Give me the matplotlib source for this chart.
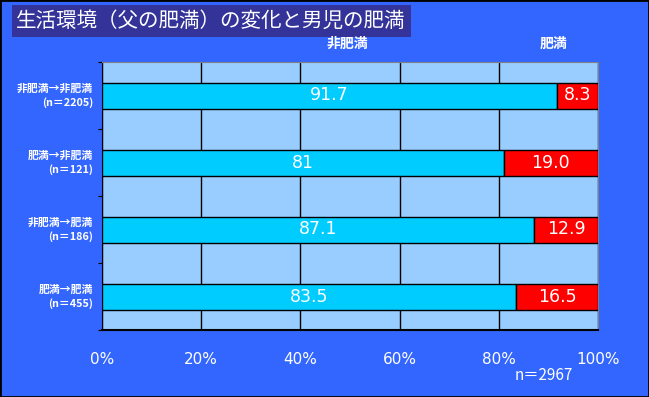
import matplotlib
matplotlib.use('Agg')
import matplotlib.pyplot as plt
from matplotlib.patches import Rectangle

plt.rcParams['font.family'] = ['Noto Sans CJK JP', 'DejaVu Sans']

# データ
categories = ['非肥満→非肥満', '肥満→非肥満', '非肥満→肥満', '肥満→肥満']
n_labels = ['(n＝2205)', '(n＝121)', '(n＝186)', '(n＝455)']
non_obese = [91.7, 81, 87.1, 83.5]
obese = [8.3, 19.0, 12.9, 16.5]
non_obese_text = ['91.7', '81', '87.1', '83.5']
obese_text = ['8.3', '19.0', '12.9', '16.5']
x_ticks = [0, 20, 40, 60, 80, 100]

W, H = 649, 397
fig = plt.figure(figsize=(W / 100, H / 100), dpi=100)
fig.patch.set_facecolor('#3366FF')

# 枠線
fig.patches.append(Rectangle((0, 0), 1, 1, transform=fig.transFigure, fill=False,
                             edgecolor='black', linewidth=2))

# タイトルの箱
fig.patches.append(Rectangle((12 / W, 1 - 37 / H), (411 - 12) / W, 32 / H,
                             transform=fig.transFigure, facecolor='#333399', edgecolor='none'))
fig.text(16 / W, 1 - 21 / H, '生活環境（父の肥満）の変化と男児の肥満', color='white',
         fontsize=14.8, ha='left', va='center')

ax = fig.add_axes([102 / W, 1 - 330 / H, (598 - 102) / W, (330 - 62) / H])
ax.set_facecolor('#99CCFF')

y = [i + 0.5 for i in range(len(categories))]
h = 26 / 67
ax.barh(y, non_obese, height=h, color='#00CCFF', edgecolor='black', linewidth=1, zorder=3)
ax.barh(y, obese, left=non_obese, height=h, color='#FF0000', edgecolor='black', linewidth=1, zorder=3)

for i in range(len(categories)):
    ax.text(non_obese[i] / 2, y[i], non_obese_text[i], color='white', fontsize=12.5,
            ha='center', va='center', zorder=4, family='DejaVu Sans')
    ax.text(non_obese[i] + obese[i] / 2, y[i], obese_text[i], color='white', fontsize=12.5,
            ha='center', va='center', zorder=4, family='DejaVu Sans')
    ax.text(-1.8, y[i] - 0.1, categories[i], color='white', fontsize=7.8, fontweight='bold',
            ha='right', va='center', clip_on=False)
    ax.text(-1.8, y[i] + 0.1, n_labels[i], color='white', fontsize=7.8, fontweight='bold',
            ha='right', va='center', clip_on=False)

ax.set_xlim(0, 100)
ax.set_ylim(len(categories), 0)
ax.set_xticks(x_ticks)
ax.set_xticklabels([f'{t}%' for t in x_ticks], color='white', fontsize=11, family='DejaVu Sans')
ax.tick_params(axis='x', length=0, pad=16)
ax.set_yticks(range(len(categories) + 1))
ax.set_yticklabels([])
ax.tick_params(axis='y', length=3, direction='out', color='black')
ax.xaxis.grid(True, color='black', linewidth=1)
ax.set_axisbelow(True)

ax.spines['left'].set_color('black')
ax.spines['bottom'].set_color('black')
ax.spines['top'].set_color('#808080')
ax.spines['right'].set_color('#808080')
ax.spines['bottom'].set_linewidth(1.5)

# 凡例見出し
fig.text(347 / W, 1 - 44 / H, '非肥満', color='white', fontsize=10, fontweight='bold',
         ha='center', va='center')
fig.text(554 / W, 1 - 44 / H, '肥満', color='white', fontsize=10, fontweight='bold',
         ha='center', va='center')

fig.text(573 / W, 1 - 376 / H, 'n＝2967', color='white', fontsize=11, ha='right', va='center')

fig.savefig('out.png', dpi=100, facecolor=fig.get_facecolor())
